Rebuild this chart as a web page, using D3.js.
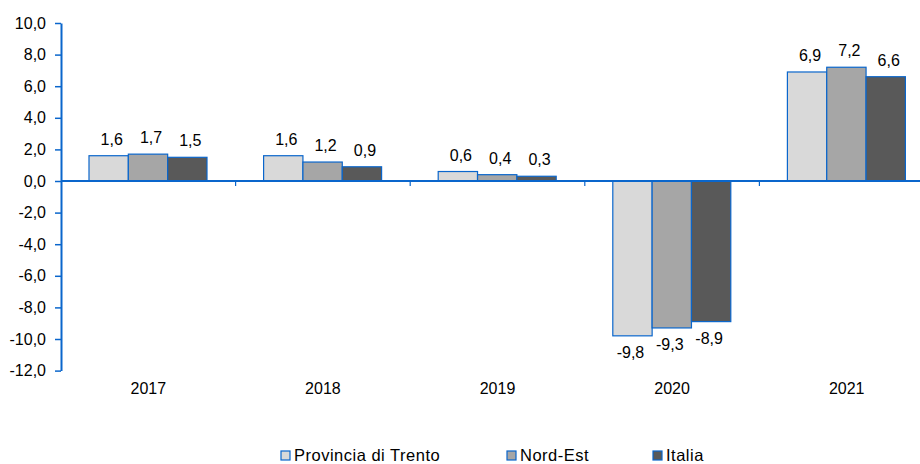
<!DOCTYPE html>
<html>
<head>
<meta charset="utf-8">
<script src="https://cdn.jsdelivr.net/npm/d3@7"></script>
<style>
  body { margin: 0; background: #fff; }
  svg { font-family: "Liberation Sans", Arial, sans-serif; }
</style>
</head>
<body>
<div class="chart"></div>
<script>
var years = ["2017", "2018", "2019", "2020", "2021"];
var series = ["Provincia di Trento", "Nord-Est", "Italia"];
var trento = [1.6, 1.6, 0.6, -9.8, 6.9];
var nordEst = [1.7, 1.2, 0.4, -9.3, 7.2];
var italia = [1.5, 0.9, 0.3, -8.9, 6.6];
var yTicks = [10, 8, 6, 4, 2, 0, -2, -4, -6, -8, -10, -12];

var values = [trento, nordEst, italia];
var colors = ["#d9d9d9", "#a6a6a6", "#595959"];
var blue = "#0a66cc";

var fmt = function(v) { return d3.format(".1f")(v).replace(".", ",").replace("−", "-"); };

var svg = d3.select(".chart").append("svg")
    .attr("width", 920)
    .attr("height", 464);

var x = d3.scaleBand()
    .domain(years)
    .range([61, 934]);

var xs = d3.scaleBand()
    .domain(series)
    .range([28, 146]);

var y = d3.scaleLinear()
    .domain([-12, 10])
    .range([370.6, 23]);

// bars
var rows = [];
years.forEach(function(yr, i) {
  series.forEach(function(s, j) {
    rows.push({year: yr, series: s, j: j, value: values[j][i]});
  });
});

svg.append("g").selectAll("rect")
    .data(rows)
  .enter().append("rect")
    .attr("x", function(d) { return x(d.year) + xs(d.series); })
    .attr("y", function(d) { return y(Math.max(0, d.value)); })
    .attr("width", xs.bandwidth())
    .attr("height", function(d) { return Math.abs(y(d.value) - y(0)); })
    .style("fill", function(d) { return colors[d.j]; })
    .style("stroke", blue)
    .style("stroke-width", "1.2px");

svg.append("g").selectAll("text")
    .data(rows)
  .enter().append("text")
    .attr("x", function(d) { return x(d.year) + xs(d.series) + xs.bandwidth() / 2 + (d.value < 0 ? -2 : 3); })
    .attr("y", function(d) { return d.value < 0 ? y(d.value) + 22 : y(d.value) - 11; })
    .attr("text-anchor", "middle")
    .style("font-size", "16px")
    .style("fill", "#000")
    .text(function(d) { return fmt(d.value); });

// y axis
var yAxis = svg.append("g")
    .attr("transform", "translate(61,0)")
    .call(d3.axisLeft(y).tickValues(yTicks).tickSize(6).tickSizeOuter(0).tickFormat(fmt));
yAxis.select(".domain").style("stroke", blue).style("stroke-width", "2px");
yAxis.selectAll(".tick line").style("stroke", blue).style("stroke-width", "1.5px");
yAxis.selectAll(".tick text")
    .attr("x", -15)
    .style("font-size", "16px")
    .style("font-family", "Liberation Sans, Arial, sans-serif")
    .style("fill", "#000");

// x axis line at zero with ticks at band boundaries
svg.append("line")
    .attr("x1", 61)
    .attr("x2", 934)
    .attr("y1", y(0))
    .attr("y2", y(0))
    .style("stroke", blue)
    .style("stroke-width", "2px");

svg.append("g").selectAll("line")
    .data(years.slice(1))
  .enter().append("line")
    .attr("x1", function(d) { return x(d); })
    .attr("x2", function(d) { return x(d); })
    .attr("y1", y(0))
    .attr("y2", y(0) + 5)
    .style("stroke", blue)
    .style("stroke-width", "1.2px");

svg.append("g").selectAll("text")
    .data(years)
  .enter().append("text")
    .attr("x", function(d) { return x(d) + x.bandwidth() / 2; })
    .attr("y", 394)
    .attr("text-anchor", "middle")
    .style("font-size", "16px")
    .style("fill", "#000")
    .text(function(d) { return d; });

// legend
var legendX = [281, 507, 653];
var legend = svg.append("g").selectAll("g")
    .data(series)
  .enter().append("g")
    .attr("transform", function(d, i) { return "translate(" + legendX[i] + ",451)"; });

legend.append("rect")
    .attr("width", 9)
    .attr("height", 9)
    .style("fill", function(d, i) { return colors[i]; })
    .style("stroke", blue)
    .style("stroke-width", "1.2px");

legend.append("text")
    .attr("x", 13)
    .attr("y", 10)
    .style("font-size", "16.5px")
    .style("letter-spacing", "0.5px")
    .style("fill", "#000")
    .text(function(d) { return d; });
</script>
</body>
</html>
